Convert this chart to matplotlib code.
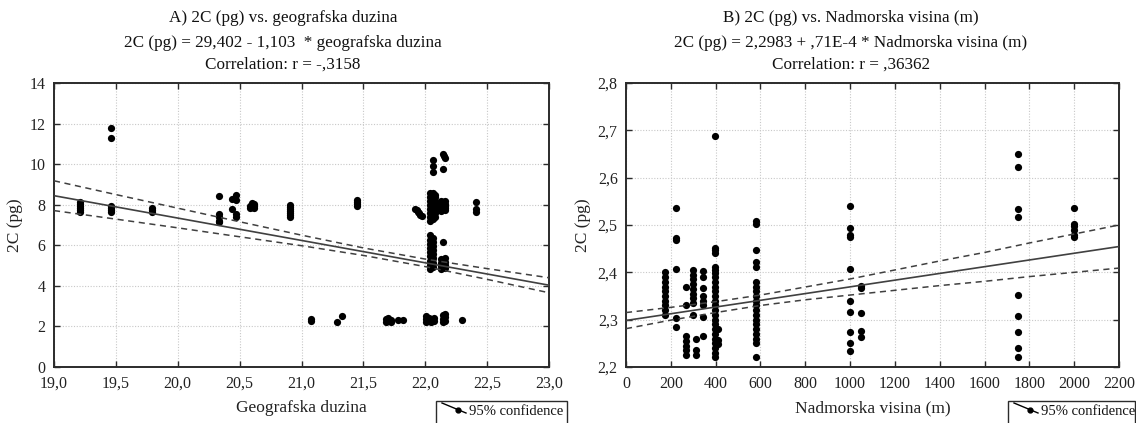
import matplotlib
matplotlib.use("Agg")
import matplotlib.pyplot as plt
from matplotlib.patches import Rectangle
from matplotlib.lines import Line2D

plt.rcParams['font.family'] = ['Liberation Serif', 'DejaVu Serif']

# ---------------- Panel A data: longitude vs 2C ----------------
geo_x = [19.21, 19.21, 19.21, 19.21, 19.21, 19.21,
         19.46, 19.46, 19.46, 19.46, 19.46, 19.46,
         19.79, 19.79, 19.79,
         20.33, 20.33, 20.33, 20.33, 20.33,
         20.44, 20.44, 20.47, 20.47, 20.47, 20.47,
         20.58, 20.58, 20.60, 20.60, 20.60, 20.62, 20.62, 20.62,
         20.91, 20.91, 20.91, 20.91, 20.91, 20.91, 20.91,
         21.45, 21.45, 21.45, 21.45,
         21.92, 21.93, 21.94, 21.95, 21.96, 21.97,
         22.06, 22.06, 22.06,
         22.04, 22.04, 22.04, 22.04, 22.04, 22.04, 22.04, 22.04,
         22.06, 22.06, 22.06, 22.06, 22.06, 22.06, 22.06, 22.06,
         22.08, 22.08, 22.08, 22.08, 22.08, 22.08, 22.08,
         22.04, 22.04, 22.04, 22.04, 22.04, 22.04, 22.04, 22.04, 22.04,
         22.06, 22.06, 22.06, 22.06, 22.06, 22.06, 22.06, 22.06,
         22.14, 22.15, 22.16, 22.14,
         22.13, 22.13, 22.13, 22.13, 22.13, 22.13,
         22.16, 22.16, 22.16, 22.16, 22.16,
         22.14,
         22.13, 22.13, 22.13, 22.13, 22.16, 22.16, 22.16, 22.16,
         22.41, 22.41, 22.41,
         21.08, 21.08, 21.29, 21.33,
         21.68, 21.68, 21.70, 21.70, 21.72, 21.72,
         21.78, 21.82,
         22.01, 22.01, 22.01, 22.03, 22.03, 22.05, 22.05, 22.07, 22.07,
         22.14, 22.14, 22.14, 22.16, 22.16, 22.16,
         22.30]
geo_2c = [7.65, 7.75, 7.85, 7.95, 8.05, 8.15,
          11.8, 11.3, 7.65, 7.75, 7.85, 7.95,
          7.65, 7.75, 7.85,
          8.42, 7.52, 7.37, 7.13, 7.22,
          8.26, 7.81, 8.46, 8.23, 7.52, 7.37,
          7.85, 7.95, 7.9, 8.0, 8.1, 7.85, 7.95, 8.05,
          7.4, 7.5, 7.6, 7.7, 7.8, 7.9, 8.0,
          7.95, 8.05, 8.15, 8.25,
          7.8, 7.72, 7.65, 7.58, 7.5, 7.45,
          10.2, 9.9, 9.6,
          7.2, 7.4, 7.6, 7.8, 8.0, 8.2, 8.4, 8.6,
          7.3, 7.5, 7.7, 7.9, 8.1, 8.3, 8.5, 8.6,
          7.4, 7.6, 7.8, 8.0, 8.2, 8.4, 8.5,
          4.85, 5.05, 5.25, 5.45, 5.65, 5.85, 6.05, 6.25, 6.5,
          4.95, 5.15, 5.35, 5.55, 5.75, 5.95, 6.15, 6.35,
          10.48, 10.4, 10.31, 9.74,
          7.7, 7.8, 7.9, 8.0, 8.1, 8.2,
          7.75, 7.85, 7.95, 8.05, 8.2,
          6.14,
          4.85, 5.0, 5.15, 5.3, 4.9, 5.05, 5.2, 5.35,
          8.13, 7.8, 7.65,
          2.25, 2.35, 2.2, 2.5,
          2.2, 2.35, 2.25, 2.4, 2.2, 2.3,
          2.3, 2.3,
          2.2, 2.35, 2.5, 2.25, 2.4, 2.2, 2.35, 2.25, 2.4,
          2.2, 2.35, 2.55, 2.25, 2.45, 2.6,
          2.3]

# regression A (from title)
reg_a_intercept = 29.402
reg_a_slope = -1.103
conf_a_x = [19.0, 19.5, 20.0, 20.5, 21.0, 21.5, 22.0, 22.5, 23.0]
conf_a_upper = [9.18, 8.50, 7.83, 7.16, 6.50, 5.87, 5.32, 4.85, 4.40]
conf_a_lower = [7.71, 7.29, 6.86, 6.42, 5.98, 5.50, 4.95, 4.32, 3.66]

xticks_a = [19.0, 19.5, 20.0, 20.5, 21.0, 21.5, 22.0, 22.5, 23.0]
xticklabels_a = ["19,0", "19,5", "20,0", "20,5", "21,0", "21,5", "22,0", "22,5", "23,0"]
yticks_a = [0, 2, 4, 6, 8, 10, 12, 14]
yticklabels_a = ["0", "2", "4", "6", "8", "10", "12", "14"]

# ---------------- Panel B data: altitude vs 2C ----------------
alt_x = [175] * 10 + [225] * 6 + [268] * 7 + [298] * 9 + [312] * 3 + [345] * 8 \
    + [395] * 25 + [410] * 3 + [580] * 20 + [1000] * 10 + [1050] * 5 \
    + [1750] * 9 + [2000] * 6
alt_2c = [2.40, 2.39, 2.38, 2.37, 2.36, 2.35, 2.34, 2.33, 2.32, 2.31,
          2.535, 2.473, 2.468, 2.407, 2.303, 2.285,
          2.37, 2.33, 2.265, 2.255, 2.245, 2.235, 2.225,
          2.405, 2.395, 2.385, 2.375, 2.365, 2.355, 2.345, 2.335, 2.31,
          2.26, 2.235, 2.225,
          2.402, 2.391, 2.367, 2.349, 2.339, 2.33, 2.305, 2.265,
          2.688, 2.452, 2.447, 2.441, 2.412, 2.405, 2.398, 2.39, 2.38, 2.37,
          2.36, 2.35, 2.34, 2.33, 2.32, 2.31, 2.30, 2.29, 2.28, 2.27,
          2.26, 2.25, 2.24, 2.23, 2.222,
          2.28, 2.257, 2.248,
          2.508, 2.503, 2.448, 2.422, 2.412, 2.38, 2.37, 2.36, 2.35, 2.34,
          2.33, 2.32, 2.31, 2.30, 2.29, 2.28, 2.27, 2.26, 2.25, 2.222,
          2.54, 2.493, 2.479, 2.475, 2.407, 2.339, 2.316, 2.274, 2.25, 2.234,
          2.372, 2.367, 2.315, 2.276, 2.264,
          2.649, 2.622, 2.533, 2.516, 2.353, 2.307, 2.274, 2.241, 2.222,
          2.535, 2.503, 2.497, 2.489, 2.479, 2.475]

reg_b_intercept = 2.2983
reg_b_slope = 0.71e-4
conf_b_x = [0, 200, 400, 600, 800, 1000, 1200, 1400, 1600, 1800, 2000, 2200]
conf_b_upper = [2.315, 2.326, 2.338, 2.352, 2.369, 2.386, 2.405, 2.424, 2.442, 2.462, 2.481, 2.500]
conf_b_lower = [2.281, 2.299, 2.315, 2.330, 2.342, 2.352, 2.362, 2.372, 2.381, 2.391, 2.400, 2.409]

xticks_b = [0, 200, 400, 600, 800, 1000, 1200, 1400, 1600, 1800, 2000, 2200]
xticklabels_b = [str(v) for v in xticks_b]
yticks_b = [2.2, 2.3, 2.4, 2.5, 2.6, 2.7, 2.8]
yticklabels_b = ["2,2", "2,3", "2,4", "2,5", "2,6", "2,7", "2,8"]

titles_a = ["A) 2C (pg) vs. geografska duzina",
            "2C (pg) = 29,402 - 1,103  * geografska duzina",
            "Correlation: r = -,3158"]
titles_b = ["B) 2C (pg) vs. Nadmorska visina (m)",
            "2C (pg) = 2,2983 + ,71E-4 * Nadmorska visina (m)",
            "Correlation: r = ,36362"]

W, H = 1136, 423
fig = plt.figure(figsize=(W / 100, H / 100), dpi=100)
fig.patch.set_facecolor("white")


def px_ax(l, r, t, b):
    return [l / W, (H - b) / H, (r - l) / W, (b - t) / H]


ax_a = fig.add_axes(px_ax(54, 549, 83, 367))
ax_b = fig.add_axes(px_ax(626, 1119, 83, 367))

dark = "#2b2b2b"


def style(ax, xt, xtl, yt, ytl, xlim, ylim, xlabel, ylabel, ylab_x):
    ax.set_xlim(*xlim)
    ax.set_ylim(*ylim)
    ax.set_xticks(xt)
    ax.set_xticklabels(xtl)
    ax.set_yticks(yt)
    ax.set_yticklabels(ytl)
    ax.grid(True, color="#c8c8c8", linestyle=(0, (1, 1.5)), linewidth=0.8)
    ax.set_axisbelow(True)
    ax.tick_params(direction="in", top=True, right=True, length=4, width=1,
                   color=dark, labelsize=11.5, labelcolor="#222222")
    ax.tick_params(axis="x", pad=6.5)
    ax.tick_params(axis="y", pad=6)
    for s in ax.spines.values():
        s.set_color(dark)
        s.set_linewidth(1.4)
    ax.set_xlabel(xlabel, fontsize=12.5, color="#222222", va="center")
    ax.xaxis.set_label_coords(0.5, -0.145)
    ax.set_ylabel(ylabel, fontsize=12.5, color="#222222", va="center")
    ax.yaxis.set_label_coords(ylab_x, 0.5)


# Panel A
style(ax_a, xticks_a, xticklabels_a, yticks_a, yticklabels_a, (19.0, 23.0), (0, 14),
      "Geografska duzina", "2C (pg)", -0.079)
ax_a.scatter(geo_x, geo_2c, s=27, color="black", zorder=3, linewidths=0)
xa = [19.0, 23.0]
ax_a.plot(xa, [reg_a_intercept + reg_a_slope * v for v in xa], color="#404040", lw=1.2, zorder=4)
ax_a.plot(conf_a_x, conf_a_upper, color="#404040", lw=1.1, ls=(0, (4, 3)), zorder=4)
ax_a.plot(conf_a_x, conf_a_lower, color="#404040", lw=1.1, ls=(0, (4, 3)), zorder=4)

# Panel B
style(ax_b, xticks_b, xticklabels_b, yticks_b, yticklabels_b, (0, 2200), (2.2, 2.8),
      "Nadmorska visina (m)", "2C (pg)", -0.087)
ax_b.scatter(alt_x, alt_2c, s=27, color="black", zorder=3, linewidths=0)
xb = [0, 2200]
ax_b.plot(xb, [reg_b_intercept + reg_b_slope * v for v in xb], color="#404040", lw=1.2, zorder=4)
ax_b.plot(conf_b_x, conf_b_upper, color="#404040", lw=1.1, ls=(0, (4, 3)), zorder=4)
ax_b.plot(conf_b_x, conf_b_lower, color="#404040", lw=1.1, ls=(0, (4, 3)), zorder=4)

# titles centred on each half of the figure
for cx, lines in ((283, titles_a), (851, titles_b)):
    for ty, txt in zip((18, 43, 65), lines):
        fig.text(cx / W, (H - ty) / H, txt, ha="center", va="center",
                 fontsize=12.3, color="#111111")

# legend boxes
for (l, r) in ((436, 567), (1008, 1135)):
    fig.patches.append(Rectangle((l / W, -0.02), (r - l) / W, (H - 401) / H + 0.02,
                                 transform=fig.transFigure, facecolor="white",
                                 edgecolor=dark, linewidth=1.0))
    fig.lines.append(Line2D([(l + 6) / W, (l + 30) / W], [(H - 403) / H, (H - 413) / H],
                            transform=fig.transFigure, color="black", lw=1.0))
    fig.lines.append(Line2D([(l + 22) / W], [(H - 410) / H], transform=fig.transFigure,
                            marker="o", markersize=3.5, color="black", lw=0))
    fig.text((l + 33) / W, (H - 411) / H, "95% confidence", ha="left", va="center",
             fontsize=10.5, color="#111111")

fig.savefig("out.png", dpi=100, facecolor="white")
